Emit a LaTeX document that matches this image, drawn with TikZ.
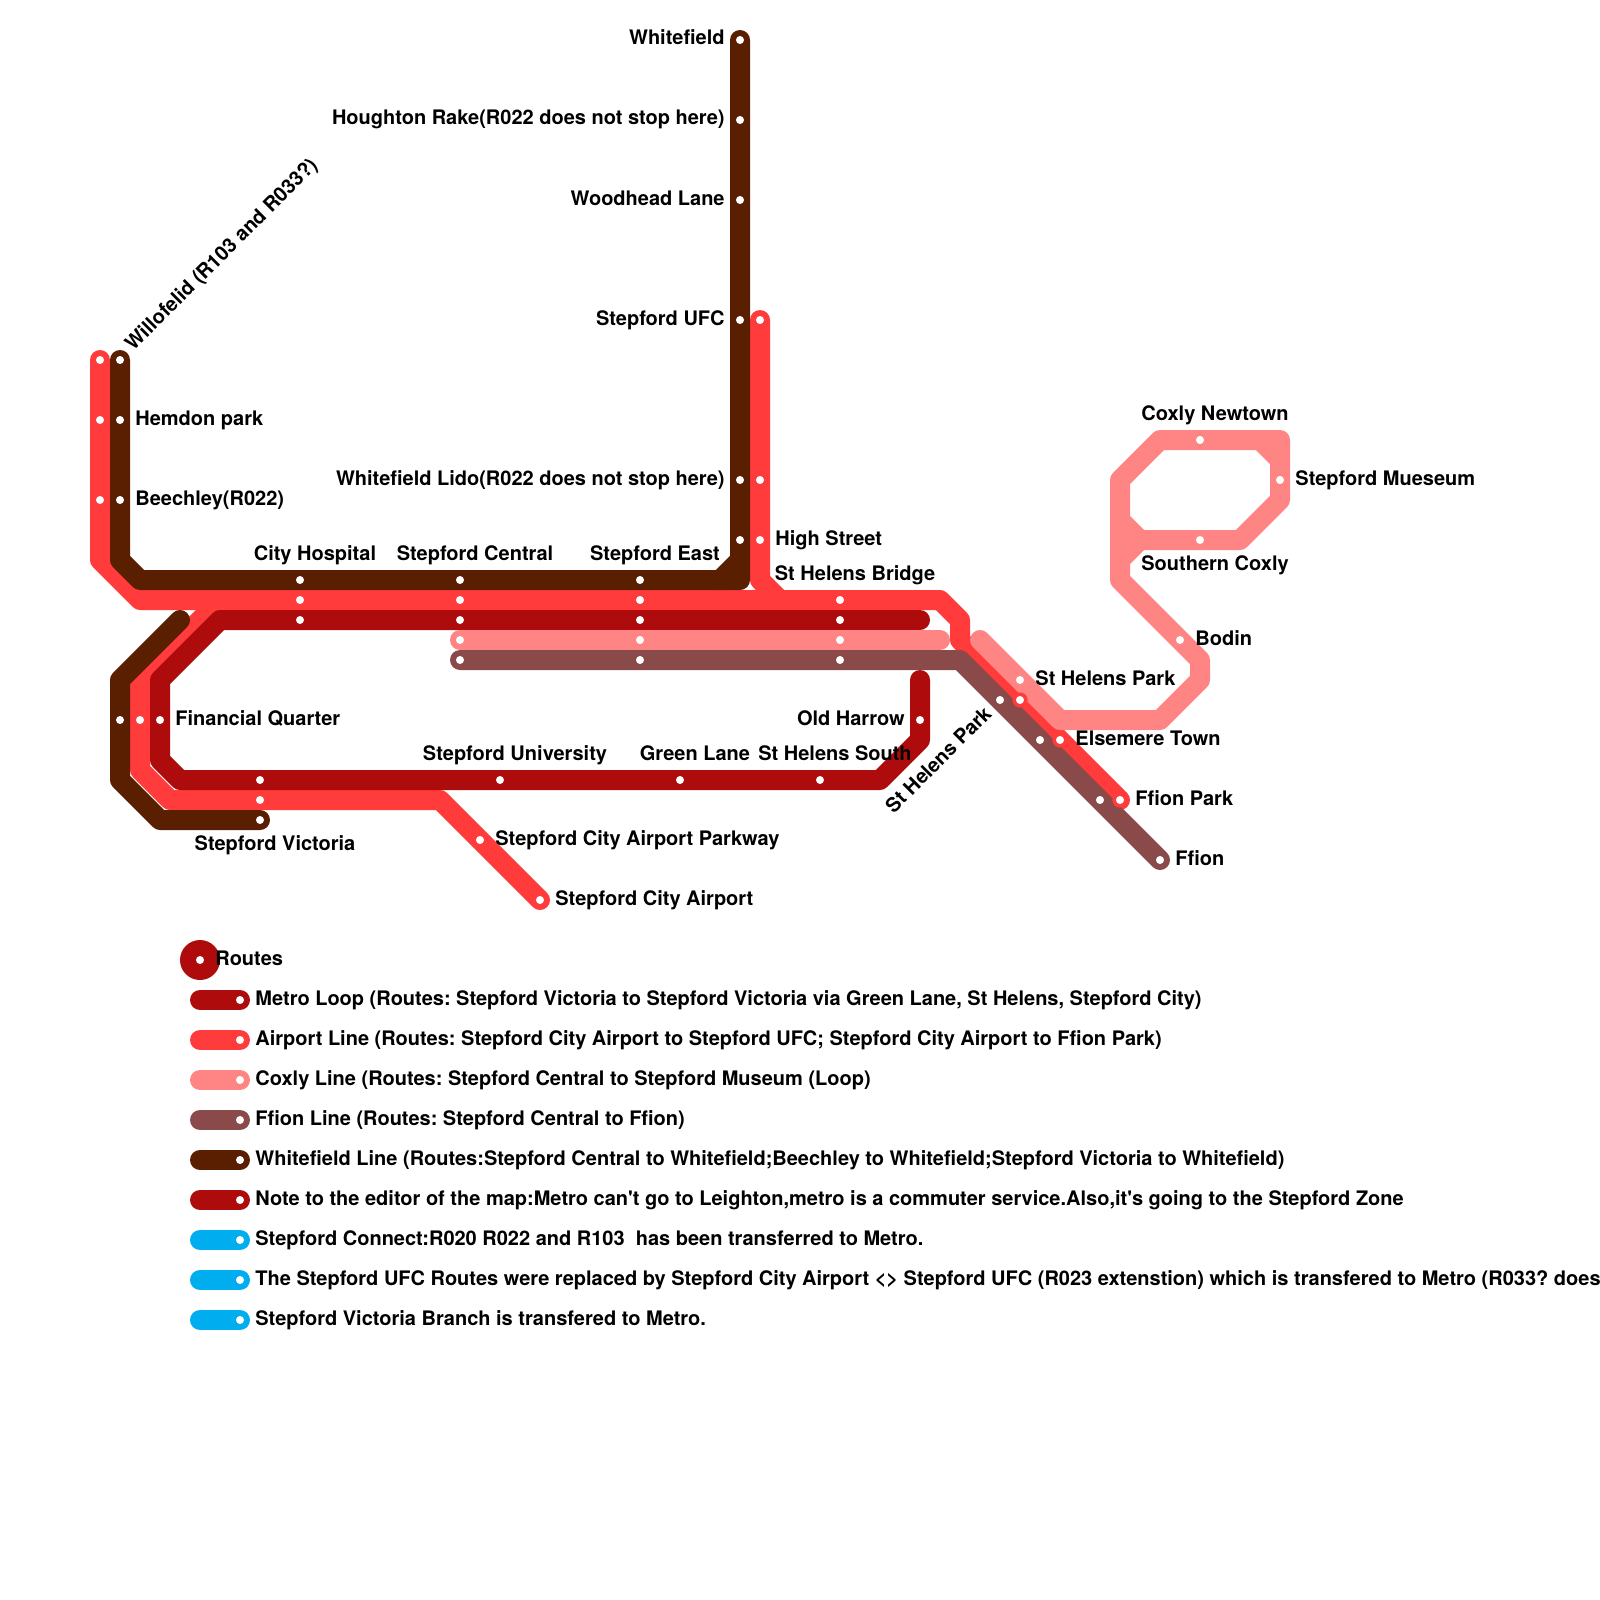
\documentclass[tikz,border=0pt]{standalone}
\usepackage{fontspec}
\setmainfont[Ligatures=NoCommon]{TeX Gyre Heros}
\frenchspacing
\usetikzlibrary{calc}
\definecolor{metro}{RGB}{174,12,12}
\definecolor{airport}{RGB}{255,59,59}
\definecolor{coxly}{RGB}{255,133,133}
\definecolor{ffion}{RGB}{139,74,74}
\definecolor{whitefield}{RGB}{90,30,0}
\definecolor{connect}{RGB}{0,174,239}
\tikzset{
  every picture/.style={x=0.5pt, y=-0.5pt, font=\fontsize{10}{12}\selectfont\bfseries},
  track/.style={line width=10pt, line cap=round, line join=round},
  metroline/.style={track, color=metro},
  airportline/.style={track, color=airport},
  coxlyline/.style={track, color=coxly},
  ffionline/.style={track, color=ffion},
  whiteline/.style={track, color=whitefield},
  connectline/.style={track, color=connect},
  stopdot/.style={circle, fill=white, inner sep=0pt, minimum size=4pt},
  stopring/.style={circle, fill=airport, inner sep=0pt, minimum size=7.6pt},
  lbl/.style={inner sep=0pt, text=black},
  lblright/.style={lbl, anchor=base west, xshift=7.5pt, yshift=-2.5pt},
  lblleft/.style={lbl, anchor=base east, xshift=-7.5pt, yshift=-2.5pt},
  lbltop/.style={lbl, anchor=base, xshift=7.5pt, yshift=10pt},
  lblbelow/.style={lbl, anchor=base, xshift=7.5pt, yshift=-15pt},
}
\begin{document}
\begin{tikzpicture}
  \useasboundingbox (0,0) rectangle (1600,1600);
  % ends of the lines
  \coordinate (whitefieldend) at (740,40);
  \coordinate (willofelid) at (120,360);
  \coordinate (victoria) at (260,820);
  \coordinate (brownstub) at (180,620);
  \coordinate (airportend) at (540,900);
  \coordinate (ffionpark) at (1120,800);
  \coordinate (willofelidred) at (100,360);
  \coordinate (stepfordufc) at (760,320);
  \coordinate (metrotop) at (920,620);
  \coordinate (metroend) at (920,680);
  \coordinate (coxlystart) at (940,640);
  \coordinate (coxlydiag) at (980,640);
  \coordinate (ffionstart) at (460,660);
  \coordinate (ffionend) at (1160,860);
  % red goes first, everything else lies over it
  \draw[airportline] (willofelidred) -- (100,560) -- (140,600) -- (940,600) -- (960,620) -- (960,640) -- (ffionpark);
  \draw[airportline] (stepfordufc) -- (760,580) -- (780,600);
  \draw[airportline] (220,600) -- (140,680) -- (140,770) -- (170,800) -- (440,800) -- (airportend);
  \draw[metroline] (metrotop) -- (220,620) -- (160,680) -- (160,760) -- (180,780) -- (880,780) -- (920,740) -- (metroend);
  \draw[coxlyline] (ffionstart |- coxlystart) -- (coxlystart);
  \draw[coxlyline] (coxlydiag) -- (1060,720) -- (1160,720) -- (1200,680) -- (1200,660) -- (1120,580) -- (1120,480) -- (1160,440) -- (1280,440) -- (1280,500) -- (1240,540) -- (1140,540) -- (1120,520);
  \draw[coxlyline] (1260,440) -- (1280,460);
  \draw[coxlyline] (1140,540) -- (1120,560);
  \draw[ffionline] (ffionstart) -- (960,660) -- (ffionend);
  \draw[whiteline] (whitefieldend) -- (740,580) -- (140,580) -- (120,560) -- (willofelid);
  \draw[whiteline] (740,560) -- (720,580);
  \draw[whiteline] (brownstub) -- (120,680) -- (120,780) -- (160,820) -- (victoria);
  % stops
  \foreach \x/\y in {1020/700,1060/740,1120/800}
    \node[stopring] (ring\x) at (\x,\y) {};
  \foreach \x/\y in {740/40,740/120,740/200,740/320,740/480,740/540,120/360,120/420,120/500,300/580,460/580,640/580,120/720,260/820}
    \node[stopdot] (wf\x-\y) at (\x,\y) {};
  \foreach \x/\y in {100/360,100/420,100/500,300/600,460/600,640/600,840/600,140/720,260/800,480/840,540/900,760/320,760/480,760/540,1020/700,1060/740,1120/800}
    \node[stopdot] (ap\x-\y) at (\x,\y) {};
  \foreach \x/\y in {300/620,460/620,640/620,840/620,160/720,260/780,500/780,680/780,820/780,920/720}
    \node[stopdot] (mt\x-\y) at (\x,\y) {};
  \foreach \x/\y in {460/640,640/640,840/640,1020/680,1180/640,1200/440,1280/480,1200/540}
    \node[stopdot] (cx\x-\y) at (\x,\y) {};
  \foreach \x/\y in {460/660,640/660,840/660,1000/700,1040/740,1100/800,1160/860}
    \node[stopdot] (ff\x-\y) at (\x,\y) {};
  % names
  \node[lblleft] (lblwhitefield) at (wf740-40) {Whitefield};
  \node[lblleft] (lblhoughton) at (wf740-120) {Houghton Rake(R022 does not stop here)};
  \node[lblleft] (lblwoodhead) at (wf740-200) {Woodhead Lane};
  \node[lblleft] (lblufc) at (wf740-320) {Stepford UFC};
  \node[lblleft] (lbllido) at (wf740-480) {Whitefield Lido(R022 does not stop here)};
  \node[lbl, anchor=base west, xshift=6.5pt, yshift=4pt, rotate=45] (lblwillofelid) at (wf120-360) {Willofelid (R103 and R033?)};
  \node[lblright] (lblhemdon) at (wf120-420) {Hemdon park};
  \node[lblright] (lblbeechley) at (wf120-500) {Beechley(R022)};
  \node[lbltop] (lblhospital) at (wf300-580) {City Hospital};
  \node[lbltop] (lblcentral) at (wf460-580) {Stepford Central};
  \node[lbltop] (lbleast) at (wf640-580) {Stepford East};
  \node[lblright] (lblhigh) at (ap760-540) {High Street};
  \node[lbltop] (lblbridge) at (ap840-600) {St Helens Bridge};
  \node[lblright] (lblfinancial) at (mt160-720) {Financial Quarter};
  \node[lblleft] (lblharrow) at (mt920-720) {Old Harrow};
  \node[lbltop] (lbluniversity) at (mt500-780) {Stepford University};
  \node[lbltop] (lblgreen) at (mt680-780) {Green Lane};
  \node[lbltop] (lblsouth) at (mt820-780) {St Helens South};
  \node[lblbelow] (lblvictoria) at (wf260-820) {Stepford Victoria};
  \node[lblright] (lblparkway) at (ap480-840) {Stepford City Airport Parkway};
  \node[lblright] (lblairport) at (ap540-900) {Stepford City Airport};
  \node[lbl, anchor=base east, xshift=-3.5pt, yshift=-7.5pt, rotate=45] (lblstpark) at (ff1000-700) {St Helens Park};
  \node[lblright] (lblpark) at (cx1020-680) {St Helens Park};
  \node[lblright] (lblelsemere) at (ap1060-740) {Elsemere Town};
  \node[lblright] (lblffionpark) at (ap1120-800) {Ffion Park};
  \node[lblright] (lblffion) at (ff1160-860) {Ffion};
  \node[lblright] (lblbodin) at (cx1180-640) {Bodin};
  \node[lbltop] (lblnewtown) at (cx1200-440) {Coxly Newtown};
  \node[lblbelow] (lblsouthern) at (cx1200-540) {Southern Coxly};
  \node[lblright] (lblmuseum) at (cx1280-480) {Stepford Mueseum};
  % key
  \node[circle, fill=metro, inner sep=0pt, minimum size=20pt] (keydisc) at (200,960) {};
  \node[stopdot] (keydot) at (keydisc) {};
  \node[lblright] (keyroutes) at (keydisc) {Routes};
  \foreach \rowy/\rowline/\rowtext in {
    1000/metroline/{Metro Loop (Routes: Stepford Victoria to Stepford Victoria via Green Lane, St Helens, Stepford City)},
    1040/airportline/{Airport Line (Routes: Stepford City Airport to Stepford UFC; Stepford City Airport to Ffion Park)},
    1080/coxlyline/{Coxly Line (Routes: Stepford Central to Stepford Museum (Loop)},
    1120/ffionline/{Ffion Line (Routes: Stepford Central to Ffion)},
    1160/whiteline/{Whitefield Line (Routes:Stepford Central to Whitefield;Beechley to Whitefield;Stepford Victoria to Whitefield)},
    1200/metroline/{Note to the editor of the map:Metro can\textquotesingle t go to Leighton,metro is a commuter service.Also,it\textquotesingle s going to the Stepford Zone},
    1240/connectline/{Stepford Connect:R020 R022 and R103\ \ has been transferred to Metro.},
    1280/connectline/{The Stepford UFC Routes were replaced by Stepford City Airport <> Stepford UFC (R023 extenstion) which is transfered to Metro (R033? does},
    1320/connectline/{Stepford Victoria Branch is transfered to Metro.}}{
    \coordinate (keyend\rowy) at (240,\rowy);
    \draw[\rowline] (keyend\rowy) -- ++(-40,0);
    \node[stopdot] (keystop\rowy) at (keyend\rowy) {};
    \node[lblright] (keytext\rowy) at (keyend\rowy) {\rowtext};
  }
\end{tikzpicture}
\end{document}
